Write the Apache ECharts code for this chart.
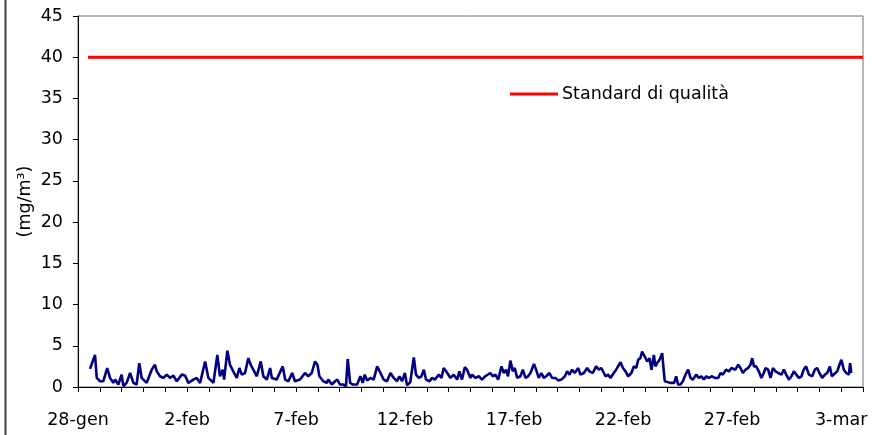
<!DOCTYPE html>
<html lang="it">
<head>
  <meta charset="utf-8">
  <style>
    html, body { margin: 0; background: #fff; }
    #chart { width: 872px; height: 435px; }
  </style>
</head>
<body>
<div id="chart"></div>
<script src="https://cdn.jsdelivr.net/npm/echarts@6/dist/echarts.min.js"></script>
<script>
// etichette dell'asse x, una ogni 5 giorni a partire dal 28-gen
var tickLabels = ['28-gen', '2-feb', '7-feb', '12-feb', '17-feb', '22-feb', '27-feb', '3-mar'];
var standardName = 'Standard di qualità';
var standardValue = 40;
var standardStart = 0.46, standardEnd = 36;   // giorni dal 28-gen
// [giorni dal 28-gen, mg/m3]
var coReadings = [
  [0.55,2.2],[0.62,2.4],[0.78,3.9],[0.86,1.1],[1.01,0.7],[1.16,0.7],[1.34,2.3],[1.47,1.1],
  [1.62,0.5],[1.70,0.9],[1.85,0.3],[2.00,1.5],[2.08,0.1],[2.23,0.5],[2.39,1.7],[2.54,0.5],
  [2.69,0.3],[2.81,2.9],[2.92,1.1],[3.15,0.5],[3.38,2.1],[3.53,2.7],[3.61,1.9],[3.76,1.3],
  [3.91,1.1],[4.07,1.5],[4.22,1.1],[4.37,1.4],[4.53,0.7],[4.76,1.5],[4.91,1.4],[5.06,0.5],
  [5.29,0.9],[5.44,1.1],[5.60,0.5],[5.83,3.1],[5.98,1.1],[6.21,0.5],[6.39,3.9],[6.51,1.3],
  [6.64,2.1],[6.70,0.9],[6.85,4.4],[6.97,2.7],[7.12,1.9],[7.28,1.1],[7.40,2.3],[7.51,1.5],
  [7.66,1.7],[7.81,3.5],[7.92,2.7],[8.04,2.1],[8.20,1.3],[8.38,3.1],[8.50,1.3],[8.66,0.9],
  [8.81,2.3],[8.89,1.1],[9.11,0.9],[9.39,2.5],[9.50,0.9],[9.65,0.7],[9.82,1.7],[9.95,0.7],
  [10.18,0.9],[10.41,1.7],[10.56,1.3],[10.72,1.7],[10.87,3.1],[10.98,2.7],[11.07,1.3],[11.25,0.7],
  [11.41,0.5],[11.48,0.9],[11.64,0.3],[11.79,0.7],[11.89,0.9],[12.02,0.3],[12.17,0.3],[12.29,0.1],
  [12.37,3.4],[12.48,0.5],[12.61,0.3],[12.80,0.3],[12.95,1.3],[13.06,0.5],[13.15,1.5],[13.26,0.8],
  [13.41,1.1],[13.56,0.9],[13.72,2.5],[13.87,1.7],[14.02,0.9],[14.17,0.7],[14.33,1.7],[14.48,1.1],
  [14.63,0.7],[14.74,1.3],[14.86,0.7],[14.99,1.7],[15.09,0.2],[15.24,0.6],[15.40,3.6],[15.50,1.5],
  [15.63,1.1],[15.75,1.3],[15.86,2.1],[15.96,0.9],[16.12,0.7],[16.24,1.1],[16.36,0.9],[16.55,1.5],
  [16.67,1.1],[16.77,2.3],[16.88,1.9],[16.97,2.1],[17.08,1.1],[17.23,1.5],[17.39,0.9],[17.49,1.9],
  [17.61,0.9],[17.74,2.4],[17.84,2.1],[18.00,1.1],[18.07,1.5],[18.23,1.1],[18.38,1.3],[18.53,0.9],
  [18.68,1.3],[18.76,1.1],[18.91,1.7],[19.02,1.3],[19.14,1.5],[19.27,0.9],[19.42,2.5],[19.53,1.7],
  [19.63,2.1],[19.72,1.3],[19.83,3.2],[19.94,1.9],[20.03,2.3],[20.14,1.1],[20.29,1.3],[20.40,2.1],
  [20.52,1.1],[20.64,1.3],[20.75,1.7],[20.91,2.8],[21.01,2.1],[21.13,1.1],[21.25,1.7],[21.36,1.1],
  [21.47,1.3],[21.62,1.7],[21.74,1.1],[21.90,1.1],[22.02,0.8],[22.17,0.9],[22.33,1.3],[22.43,1.9],
  [22.54,1.5],[22.66,2.1],[22.78,1.7],[22.94,2.3],[23.04,1.5],[23.20,1.7],[23.35,2.3],[23.45,1.9],
  [23.61,1.7],[23.76,2.5],[23.89,2.1],[24.00,2.3],[24.19,1.3],[24.31,1.5],[24.42,1.1],[24.57,1.7],
  [24.68,2.1],[24.77,1.9],[24.88,3.0],[24.99,2.3],[25.11,1.9],[25.23,1.3],[25.38,1.7],[25.49,2.5],
  [25.60,2.3],[25.69,3.3],[25.79,3.5],[25.87,4.3],[25.99,3.7],[26.10,3.1],[26.21,3.5],[26.30,2.1],
  [26.41,3.9],[26.48,2.5],[26.56,2.9],[26.67,3.3],[26.79,4.1],[26.87,1.7],[26.91,0.7],[26.97,0.5],
  [27.16,0.5],[27.34,0.5],[27.43,1.3],[27.52,0.3],[27.63,0.3],[27.74,0.7],[27.86,1.5],[27.98,2.1],
  [28.09,1.1],[28.20,0.9],[28.35,1.5],[28.47,1.1],[28.59,1.3],[28.70,0.9],[28.81,1.3],[28.93,1.1],
  [29.08,1.3],[29.21,1.1],[29.36,1.1],[29.46,1.7],[29.57,1.5],[29.72,2.1],[29.85,1.9],[29.97,2.3],
  [30.15,2.1],[30.28,2.7],[30.38,2.3],[30.49,1.7],[30.61,2.1],[30.73,2.3],[30.84,2.7],[30.92,3.5],
  [31.00,2.5],[31.10,2.5],[31.22,1.9],[31.34,1.1],[31.45,1.7],[31.53,2.3],[31.65,2.1],[31.76,1.1],
  [31.87,2.3],[31.99,1.9],[32.11,1.7],[32.26,1.5],[32.37,2.1],[32.48,1.5],[32.60,0.9],[32.72,1.3],
  [32.83,1.9],[32.94,1.5],[33.06,1.1],[33.18,1.3],[33.28,2.1],[33.39,2.5],[33.52,1.5],[33.67,1.3],
  [33.79,2.1],[33.90,2.3],[34.00,1.7],[34.13,1.1],[34.25,1.5],[34.36,1.7],[34.48,2.5],[34.57,1.3],
  [34.66,1.3],[34.82,1.9],[34.92,2.7],[35.01,3.3],[35.12,2.1],[35.23,1.7],[35.35,1.5],[35.41,2.9],
  [35.46,1.7]
];

var chart = echarts.init(document.getElementById('chart'), null, { renderer: 'canvas' });
var font = 'DejaVu Sans';
var fs = 17.5;

var option = {
  animation: false,
  backgroundColor: '#fff',
  textStyle: { fontFamily: font },
  grid: {
    left: 78, right: 9, top: 16, bottom: 48,
    show: true, borderColor: '#707070', borderWidth: 1
  },
  legend: {
    data: [standardName],
    left: 505, top: 80,
    icon: 'rect', itemWidth: 48, itemHeight: 3, itemGap: 4,
    textStyle: { fontFamily: font, fontSize: fs, color: '#000', padding: [0, 0, 0, -1] }
  },
  xAxis: {
    type: 'value', min: 0, max: 36, interval: 1,
    axisLine: { lineStyle: { color: '#000', width: 1 } },
    axisTick: { show: true, length: 5, lineStyle: { color: '#000' } },
    splitLine: { show: false },
    axisLabel: {
      margin: 24, fontSize: fs, color: '#000', fontFamily: font,
      showMinLabel: true, showMaxLabel: true,
      formatter: function (v) {
        return v % 5 === 0 && tickLabels[v / 5] ? tickLabels[v / 5] : '';
      }
    }
  },
  yAxis: {
    type: 'value', min: 0, max: 45, interval: 5,
    name: '(mg/m³)', nameLocation: 'middle', nameGap: 44, nameRotate: 90,
    nameMoveOverlap: false,
    nameTextStyle: { fontSize: fs, color: '#000', fontFamily: font },
    axisLine: { show: true, lineStyle: { color: '#000', width: 1 } },
    axisTick: { show: true, length: 5, lineStyle: { color: '#000' } },
    splitLine: { show: false },
    axisLabel: { margin: 15, fontSize: fs, color: '#000', fontFamily: font }
  },
  series: [
    {
      name: standardName, type: 'line', symbol: 'none',
      data: [[standardStart, standardValue], [standardEnd, standardValue]],
      lineStyle: { color: '#ff0000', width: 3 }, itemStyle: { color: '#ff0000' }
    },
    {
      name: 'CO', type: 'line', symbol: 'none',
      data: coReadings,
      lineStyle: { color: '#000080', width: 2.6 }, itemStyle: { color: '#000080' }
    }
  ],
  graphic: [
    { type: 'line', shape: { x1: 5.5, y1: 0, x2: 5.5, y2: 435 }, style: { stroke: '#404040', lineWidth: 2 } }
  ]
};

chart.setOption(option);
window.addEventListener('resize', chart.resize);
</script>
</body>
</html>
